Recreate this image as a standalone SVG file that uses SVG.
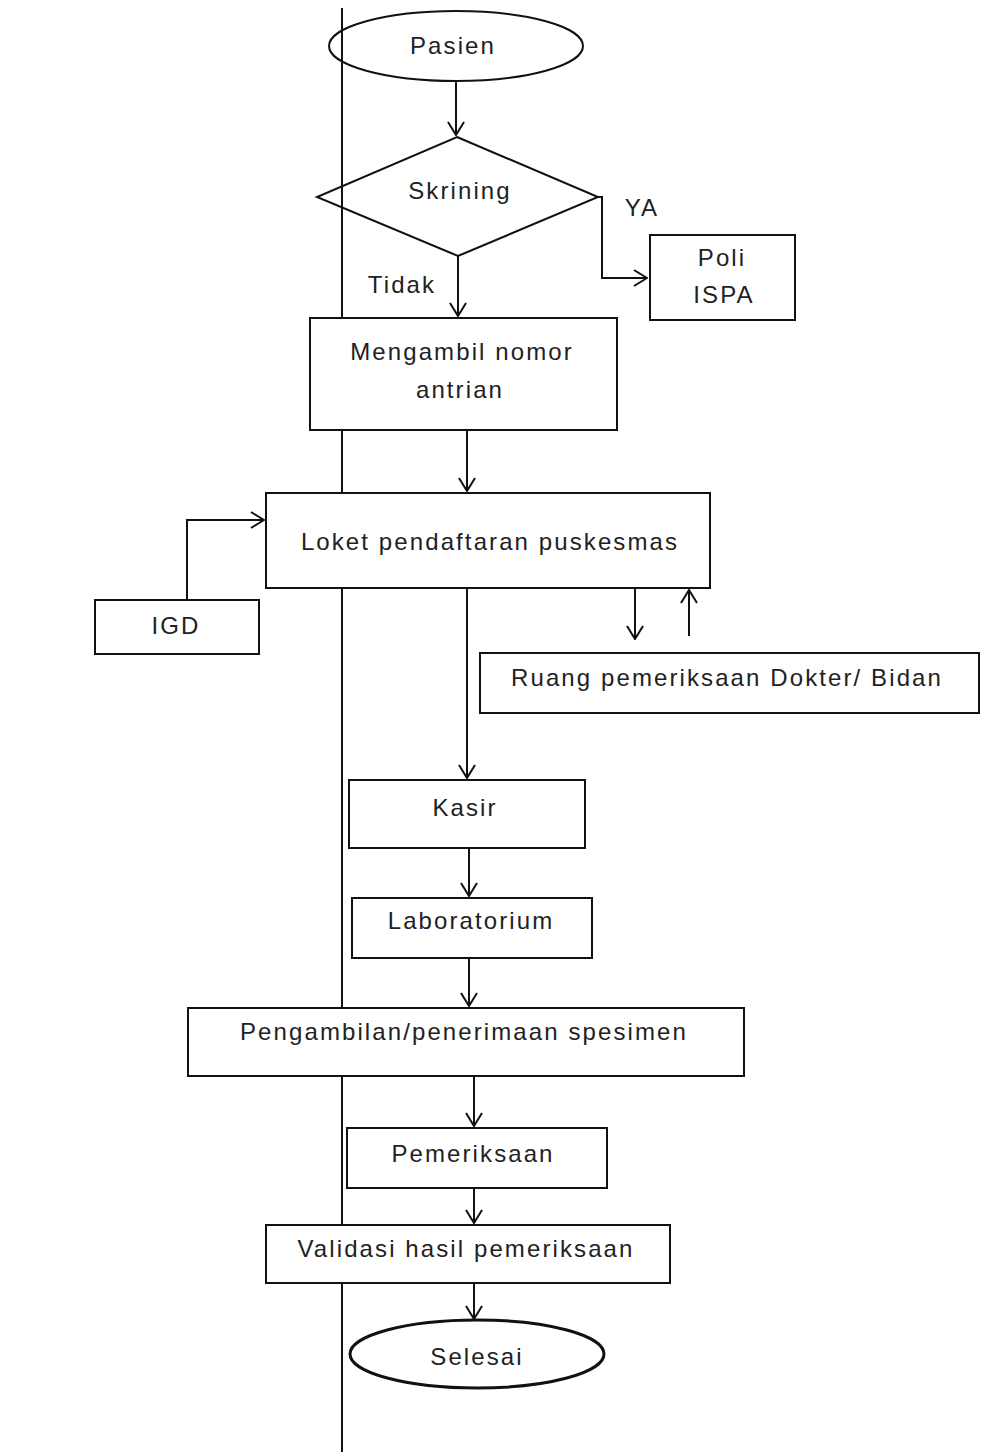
<svg xmlns="http://www.w3.org/2000/svg" width="995" height="1452" viewBox="0 0 995 1452">
<style>
.box{fill:#fff;stroke:#111;stroke-width:2}
.open{fill:none;stroke:#111;stroke-width:2}
.t{font-family:"Liberation Sans",Arial,sans-serif;font-size:24px;letter-spacing:2.1px;fill:#222;text-anchor:middle}
.c{fill:none;stroke:#111;stroke-width:2}
</style>
<defs>
<marker id="arr" markerUnits="userSpaceOnUse" viewBox="0 0 15 18" refX="14" refY="9" markerWidth="15" markerHeight="18" orient="auto">
<path d="M1,1 L14,9 L1,17" fill="none" stroke="#111" stroke-width="2"/>
</marker>
</defs>
<rect width="995" height="1452" fill="#fff"/>
<g id="lane"><line x1="342" y1="8" x2="342" y2="1452" stroke="#111" stroke-width="2"/></g>

<g id="pasien"><ellipse class="open" cx="456" cy="46" rx="127" ry="35"/><text class="t" x="453" y="54">Pasien</text></g>
<g id="skrining"><polygon class="open" points="457,137 598,197 458,256 317,197"/><text class="t" x="460" y="199">Skrining</text></g>
<g id="poli"><rect class="box" x="650" y="235" width="145" height="85"/><text class="t" x="722" y="266">Poli</text><text class="t" x="724" y="303">ISPA</text></g>
<g id="mengambil"><rect class="box" x="310" y="318" width="307" height="112"/><text class="t" x="462" y="360">Mengambil nomor</text><text class="t" x="460" y="398">antrian</text></g>
<g id="loket"><rect class="box" x="266" y="493" width="444" height="95"/><text class="t" x="490" y="550">Loket pendaftaran puskesmas</text></g>
<g id="igd"><rect class="box" x="95" y="600" width="164" height="54"/><text class="t" x="176" y="634">IGD</text></g>
<g id="ruang"><rect class="box" x="480" y="653" width="499" height="60"/><text class="t" x="727" y="686">Ruang pemeriksaan Dokter/ Bidan</text></g>
<g id="kasir"><rect class="box" x="349" y="780" width="236" height="68"/><text class="t" x="465" y="816">Kasir</text></g>
<g id="lab"><rect class="box" x="352" y="898" width="240" height="60"/><text class="t" x="471" y="929">Laboratorium</text></g>
<g id="pengambilan"><rect class="box" x="188" y="1008" width="556" height="68"/><text class="t" x="464" y="1040">Pengambilan/penerimaan spesimen</text></g>
<g id="pemeriksaan"><rect class="box" x="347" y="1128" width="260" height="60"/><text class="t" x="473" y="1162">Pemeriksaan</text></g>
<g id="validasi"><rect class="box" x="266" y="1225" width="404" height="58"/><text class="t" x="466" y="1257">Validasi hasil pemeriksaan</text></g>
<g id="selesai"><ellipse cx="477" cy="1354" rx="127" ry="34" fill="#fff" stroke="#111" stroke-width="3"/><text class="t" x="477" y="1365">Selesai</text></g>

<g id="labels">
<text class="t" x="642" y="216">YA</text>
<text class="t" x="402" y="293">Tidak</text>
</g>

<g id="connectors">
<path class="c" d="M456,81 V135" marker-end="url(#arr)"/>
<path class="c" d="M598,197 H602 V278 H647" marker-end="url(#arr)"/>
<path class="c" d="M458,256 V316" marker-end="url(#arr)"/>
<path class="c" d="M467,430 V491" marker-end="url(#arr)"/>
<path class="c" d="M108,600 H187 V520 H264" marker-end="url(#arr)"/>
<path class="c" d="M635,588 V639" marker-end="url(#arr)"/>
<path class="c" d="M689,636 V590" marker-end="url(#arr)"/>
<path class="c" d="M467,588 V778" marker-end="url(#arr)"/>
<path class="c" d="M469,848 V896" marker-end="url(#arr)"/>
<path class="c" d="M469,958 V1006" marker-end="url(#arr)"/>
<path class="c" d="M474,1076 V1126" marker-end="url(#arr)"/>
<path class="c" d="M474,1188 V1223" marker-end="url(#arr)"/>
<path class="c" d="M474,1283 V1319" marker-end="url(#arr)"/>
</g>
</svg>
